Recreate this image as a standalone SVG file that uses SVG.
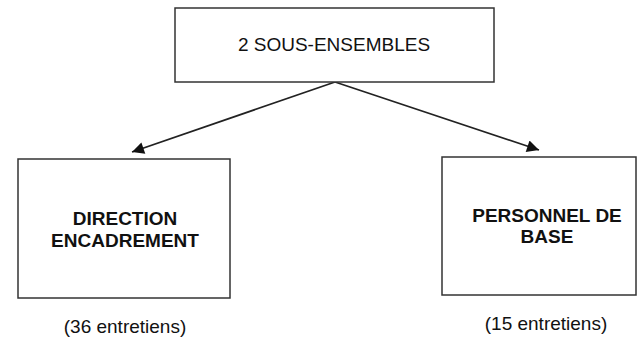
<svg xmlns="http://www.w3.org/2000/svg" width="638" height="340" viewBox="0 0 638 340">
<style>
.box{fill:#fff;stroke:#333;stroke-width:1.5}
.t{font-family:"Liberation Sans",Arial,sans-serif;font-size:19px;fill:#111;text-anchor:middle}
.b{font-weight:bold}
.c{stroke:#222;stroke-width:1.7;fill:none}
</style>
<defs>
<marker id="ah" viewBox="0 0 10 10" refX="10" refY="5" markerWidth="17" markerHeight="12" markerUnits="userSpaceOnUse" orient="auto">
<path d="M0,0 L10,5 L0,10 z" fill="#111"/>
</marker>
</defs>
<rect width="638" height="340" fill="#fff"/>
<g id="connectors">
<line class="c" x1="335" y1="82" x2="132" y2="152" marker-end="url(#ah)"/>
<line class="c" x1="335" y1="82" x2="539" y2="150" marker-end="url(#ah)"/>
</g>
<g id="top">
<rect class="box" x="175" y="8" width="319" height="74"/>
<text class="t" x="334" y="51">2 SOUS-ENSEMBLES</text>
</g>
<g id="direction">
<rect class="box" x="18" y="159" width="212" height="139"/>
<text class="t b" x="125" y="225">DIRECTION</text>
<text class="t b" x="125" y="247">ENCADREMENT</text>
<text class="t" x="125" y="333">(36 entretiens)</text>
</g>
<g id="personnel">
<rect class="box" x="442" y="157" width="194" height="138"/>
<text class="t b" x="547" y="222">PERSONNEL DE</text>
<text class="t b" x="547" y="243">BASE</text>
<text class="t" x="546" y="330">(15 entretiens)</text>
</g>
</svg>
